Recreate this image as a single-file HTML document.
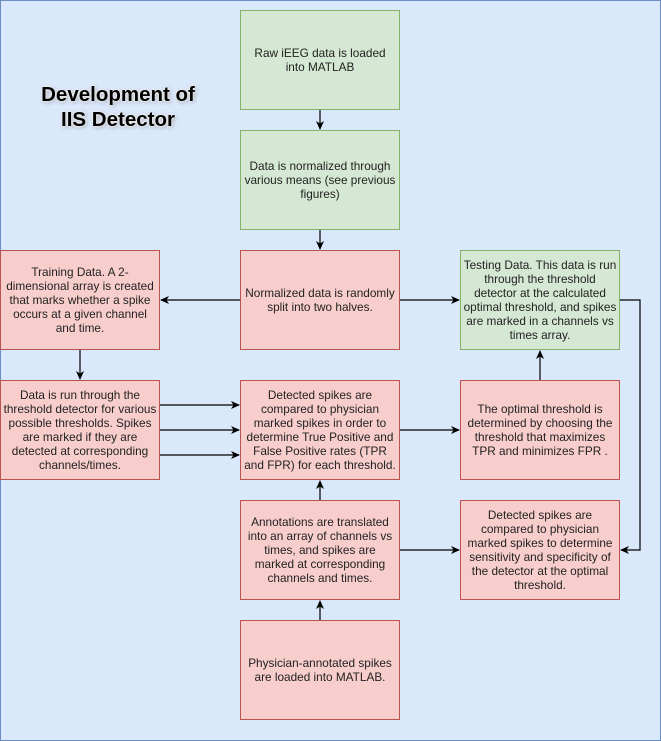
<!DOCTYPE html>
<html><head><meta charset="utf-8"><style>
html,body{margin:0;padding:0;}
body{width:661px;height:741px;position:relative;background:#dae8fc;overflow:hidden;font-family:"Liberation Sans",Arial,sans-serif;}
.frame{position:absolute;left:0;top:0;width:659px;height:739px;border:1px solid #6c8ebf;}
.b{position:absolute;width:160px;height:100px;box-sizing:border-box;display:flex;align-items:center;justify-content:center;text-align:center;font-size:11.8px;line-height:14px;color:#222;padding:0;white-space:nowrap;}
.g{background:#d5e8d4;border:1px solid #82b366;}
.r{background:#f8cecc;border:1px solid #b85450;}
.t{position:absolute;left:18px;top:82px;width:200px;text-align:center;font-weight:bold;font-size:20.5px;line-height:25px;color:#000;text-shadow:0 0 2px #fff,0 0 3px #fff,1px 1px 4px #888;}
svg{position:absolute;left:0;top:0;}
</style></head><body>
<div class="frame"></div>
<div class="t">Development of<br>IIS Detector</div>
<svg width="661" height="741">
<defs><marker id="a" markerWidth="10" markerHeight="10" refX="8" refY="5" orient="auto" markerUnits="userSpaceOnUse"><path d="M0,1 L9,5 L0,9 L2.5,5 Z" fill="#000"/></marker></defs>
<g stroke="#000" stroke-width="1.2" fill="none" marker-end="url(#a)">
<line x1="320" y1="110" x2="320" y2="129"/>
<line x1="320" y1="230" x2="320" y2="249"/>
<line x1="240" y1="300" x2="161" y2="300"/>
<line x1="400" y1="300" x2="459" y2="300"/>
<line x1="80" y1="350" x2="80" y2="379"/>
<line x1="160" y1="405" x2="239" y2="405"/>
<line x1="160" y1="430" x2="239" y2="430"/>
<line x1="160" y1="455" x2="239" y2="455"/>
<line x1="400" y1="430" x2="459" y2="430"/>
<line x1="540" y1="380" x2="540" y2="351"/>
<line x1="320" y1="500" x2="320" y2="481"/>
<line x1="400" y1="550" x2="459" y2="550"/>
<line x1="320" y1="620" x2="320" y2="601"/>
<polyline points="620,300 640,300 640,550 621,550"/>
</g>
</svg>
<div class="b g" style="left:240px;top:10px"><div>Raw iEEG data is loaded<br>into MATLAB</div></div>
<div class="b g" style="left:240px;top:130px"><div>Data is normalized through<br>various means (see previous<br>figures)</div></div>
<div class="b r" style="left:240px;top:250px"><div>Normalized data is randomly<br>split into two halves.</div></div>
<div class="b r" style="left:0px;top:250px"><div>Training Data. A 2-<br>dimensional array is created<br>that marks whether a spike<br>occurs at a given channel<br>and time.</div></div>
<div class="b g" style="left:460px;top:250px"><div>Testing Data. This data is run<br>through the threshold<br>detector at the calculated<br>optimal threshold, and spikes<br>are marked in a channels vs<br>times array.</div></div>
<div class="b r" style="left:0px;top:380px"><div>Data is run through the<br>threshold detector for various<br>possible thresholds. Spikes<br>are marked if they are<br>detected at corresponding<br>channels/times.</div></div>
<div class="b r" style="left:240px;top:380px"><div>Detected spikes are<br>compared to physician<br>marked spikes in order to<br>determine True Positive and<br>False Positive rates (TPR<br>and FPR) for each threshold.</div></div>
<div class="b r" style="left:460px;top:380px"><div>The optimal threshold is<br>determined by choosing the<br>threshold that maximizes<br>TPR and minimizes FPR .</div></div>
<div class="b r" style="left:240px;top:500px"><div>Annotations are translated<br>into an array of channels vs<br>times, and spikes are<br>marked at corresponding<br>channels and times.</div></div>
<div class="b r" style="left:460px;top:500px"><div>Detected spikes are<br>compared to physician<br>marked spikes to determine<br>sensitivity and specificity of<br>the detector at the optimal<br>threshold.</div></div>
<div class="b r" style="left:240px;top:620px"><div>Physician-annotated spikes<br>are loaded into MATLAB.</div></div>
</body></html>
